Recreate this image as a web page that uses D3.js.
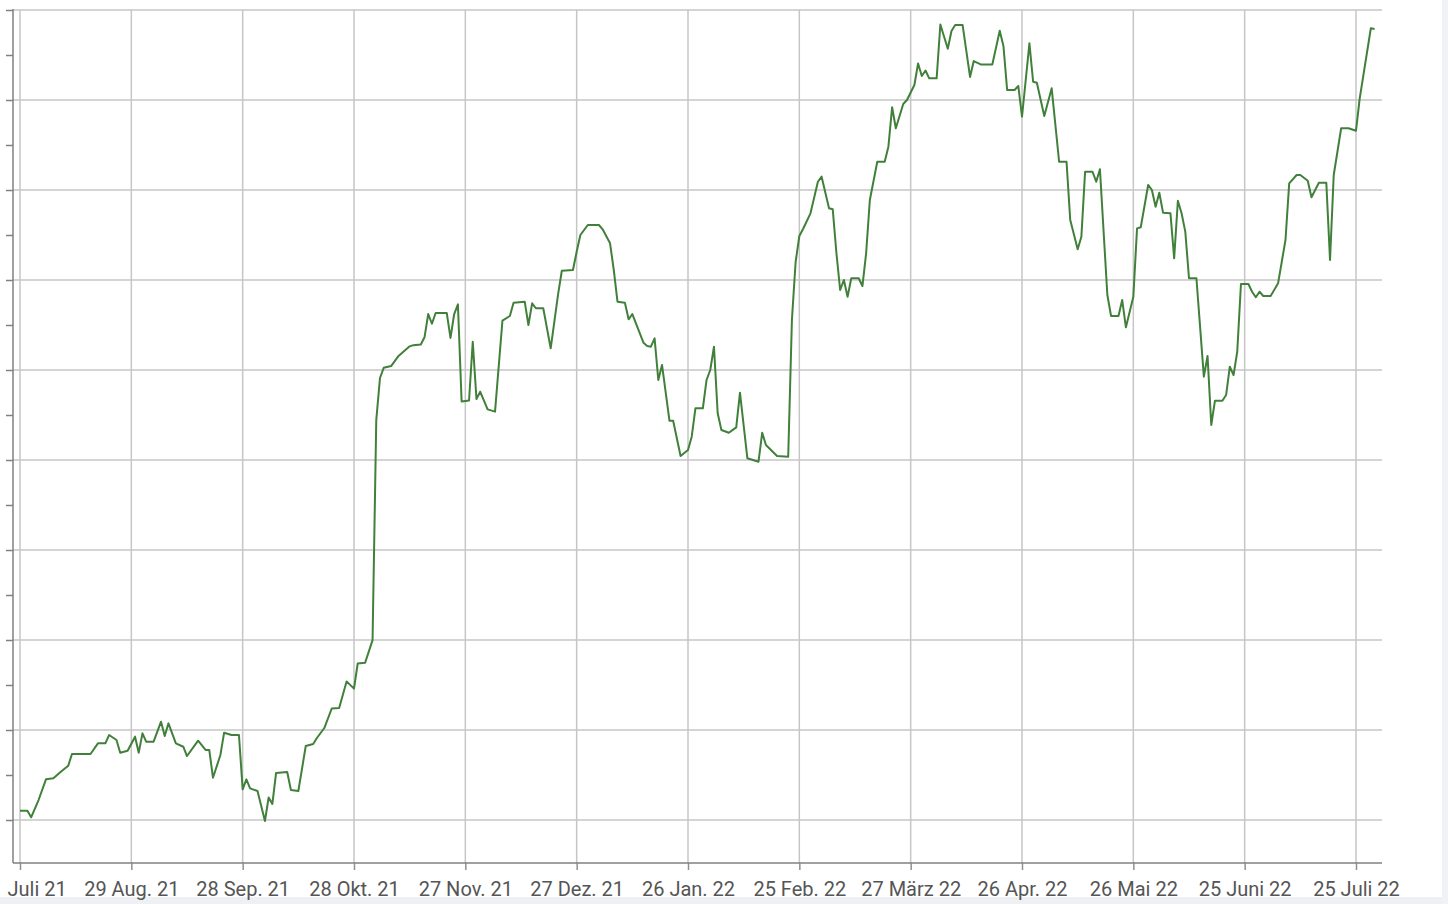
<!DOCTYPE html>
<html><head><meta charset="utf-8">
<script src="https://cdn.jsdelivr.net/npm/d3@7"></script>
<style>
html,body{margin:0;padding:0;background:#fff;}
svg{display:block;}
</style></head><body>
<svg id="chart" width="1448" height="904"></svg>
<script>
// ---- data ----
const startDate = "2021-07-30";
const dayOffsets = [0,2,3,5,7,9,11,13,14,19,21,23,24,26,27,29,31,32,33,34,36,38,39,40,42,44,45,48,50,51,52,54,55,57,59,60,61,62,64,66,67,68,69,72,73,75,77,79,80,82,84,86,88,90,91,93,95,96,97,98,100,102,105,106,108,109,110,111,112,115,116,117,118,119,121,122,123,124,126,128,130,132,133,136,137,138,139,141,143,145,146,149,150,151,153,156,157,159,160,161,163,164,165,168,169,170,171,172,173,175,176,178,180,181,182,184,185,186,187,188,189,191,193,194,196,199,200,201,204,207,208,209,210,211,213,215,216,218,219,220,221,222,223,224,226,227,228,229,231,233,234,235,236,238,239,241,242,243,244,245,247,248,250,251,252,254,256,257,259,262,264,265,266,268,269,270,272,273,274,276,278,280,282,283,285,286,287,289,290,291,293,294,296,297,298,300,301,302,304,305,306,307,308,310,311,312,313,314,315,317,319,320,321,322,324,325,326,327,328,329,331,332,333,334,335,337,339,341,342,344,345,347,348,350,352,353,354,356,358,360,361,364,365];
const prices = [101.03,101.03,100.30,102.22,104.52,104.63,105.37,106.03,107.33,107.33,108.52,108.52,109.44,108.89,107.48,107.70,109.26,107.48,109.63,108.70,108.70,110.92,109.33,110.74,108.52,108.14,107.11,108.81,107.78,107.78,104.70,107.22,109.70,109.44,109.44,103.41,104.52,103.52,103.22,99.89,102.50,101.78,105.22,105.33,103.33,103.22,108.22,108.44,109.11,110.22,112.39,112.44,115.40,114.60,117.39,117.47,119.98,144.44,149.11,150.24,150.44,151.56,152.63,152.76,152.83,153.63,156.22,155.14,156.33,156.33,153.56,156.22,157.29,146.50,146.61,153.14,146.78,147.59,145.63,145.37,155.48,156.00,157.48,157.59,155.00,157.41,156.86,156.86,152.41,158.44,161.03,161.11,163.14,165.00,166.11,166.11,165.63,164.08,161.11,157.59,157.48,155.63,156.22,153.03,152.67,152.59,153.52,148.89,150.56,144.37,144.37,140.44,141.11,142.59,145.74,145.74,148.89,150.00,152.59,145.19,143.33,143.03,143.63,147.48,140.19,139.81,143.03,141.67,140.44,140.37,155.56,162.00,164.89,165.67,167.41,170.92,171.48,167.97,167.86,162.97,158.89,160.00,158.14,160.19,160.19,159.33,162.97,168.89,173.14,173.14,174.81,179.19,176.86,179.56,180.00,181.67,184.06,182.67,183.28,182.41,182.41,188.39,185.69,187.67,188.33,188.33,182.56,184.33,183.94,183.94,187.70,186.00,181.11,181.11,181.56,178.14,186.30,182.03,181.92,178.22,181.30,173.14,173.14,166.67,163.41,164.81,172.03,172.03,170.92,172.30,158.33,156.00,156.00,157.78,154.74,158.14,165.74,165.86,170.56,170.00,168.14,169.70,167.48,167.41,162.41,168.81,167.41,165.37,160.19,160.19,149.26,151.56,143.89,146.59,146.59,147.22,150.37,149.44,152.03,159.56,159.56,158.70,158.08,158.70,158.22,158.22,159.63,164.44,170.74,171.67,171.67,171.03,169.19,170.81,170.81,162.22,171.67,176.86,176.86,176.59,180.19,187.97,187.89];
const tickDates = ["2021-07-30","2021-08-29","2021-09-28","2021-10-28","2021-11-27","2021-12-27","2022-01-26","2022-02-25","2022-03-27","2022-04-26","2022-05-26","2022-06-25","2022-07-25"];
const tickLabels = ["Juli 21","29 Aug. 21","28 Sep. 21","28 Okt. 21","27 Nov. 21","27 Dez. 21","26 Jan. 22","25 Feb. 22","27 März 22","26 Apr. 22","26 Mai 22","25 Juni 22","25 Juli 22"];
const yGridValues = [100,110,120,130,140,150,160,170,180,190];
const yTickValues = [100,105,110,115,120,125,130,135,140,145,150,155,160,165,170,175,180,185,190];

// ---- layout ----
const W = 1448, H = 904;
const plot = {left: 13, right: 1382, top: 10, bottom: 863};
const parse = d3.timeParse("%Y-%m-%d");
const start = parse(startDate);
const ticks = tickDates.map(parse);
const data = dayOffsets.map((o, i) => ({date: d3.timeDay.offset(start, o), value: prices[i]}));

const x = d3.scaleTime().domain([ticks[0], ticks[ticks.length - 1]]).range([20, 1356]);
const y = d3.scaleLinear().domain([100, 190]).range([820, 10]);

const svg = d3.select("#chart");
svg.append("rect").attr("width", W).attr("height", H).attr("fill", "#fff");
svg.append("rect").attr("x", 0).attr("y", 897).attr("width", W).attr("height", H - 897).attr("fill", "#eef0f3");
svg.append("rect").attr("x", 1442).attr("y", 0).attr("width", W - 1442).attr("height", H).attr("fill", "#f1f2f5");

// grid
const grid = svg.append("g").attr("stroke", "#c6c6c6").attr("stroke-width", 1.5);
grid.selectAll("line.h").data(yGridValues).join("line").attr("class", "h")
  .attr("x1", plot.left).attr("x2", plot.right)
  .attr("y1", d => y(d)).attr("y2", d => y(d));
grid.selectAll("line.v").data(ticks).join("line").attr("class", "v")
  .attr("x1", d => x(d)).attr("x2", d => x(d))
  .attr("y1", plot.top).attr("y2", plot.bottom);

// y axis
const yAxis = svg.append("g").attr("transform", `translate(${plot.left},0)`)
  .call(d3.axisLeft(y).tickValues(yTickValues).tickSize(7).tickFormat(""));
yAxis.select(".domain").remove();
yAxis.selectAll(".tick line").attr("stroke", "#808080").attr("stroke-width", 1.5);
svg.append("line").attr("x1", plot.left).attr("x2", plot.left)
  .attr("y1", plot.top - 1).attr("y2", plot.bottom)
  .attr("stroke", "#808080").attr("stroke-width", 1.5);

// x axis
const xAxis = svg.append("g").attr("transform", `translate(0,${plot.bottom})`)
  .call(d3.axisBottom(x).tickValues(ticks).tickSize(7).tickFormat((d, i) => tickLabels[i]));
xAxis.select(".domain").remove();
xAxis.selectAll(".tick line").attr("stroke", "#909090").attr("stroke-width", 1.5);
xAxis.selectAll(".tick text")
  .attr("y", 33).attr("dy", 0)
  .attr("fill", "#555")
  .style("font-family", "Roboto, 'Noto Sans', sans-serif")
  .style("font-size", "20px");
// first label sits at the left edge, left-aligned
xAxis.selectAll(".tick text").filter((d, i) => i === 0)
  .attr("text-anchor", "start").attr("x", -13);
svg.append("line").attr("x1", plot.left).attr("x2", plot.right)
  .attr("y1", plot.bottom).attr("y2", plot.bottom)
  .attr("stroke", "#808080").attr("stroke-width", 1.5);

// line
const line = d3.line().x(d => x(d.date)).y(d => y(d.value));
svg.append("path").datum(data)
  .attr("d", line)
  .attr("fill", "none")
  .attr("stroke", "#41803a")
  .attr("stroke-width", 2)
  .attr("stroke-linejoin", "round");
</script>
</body></html>
